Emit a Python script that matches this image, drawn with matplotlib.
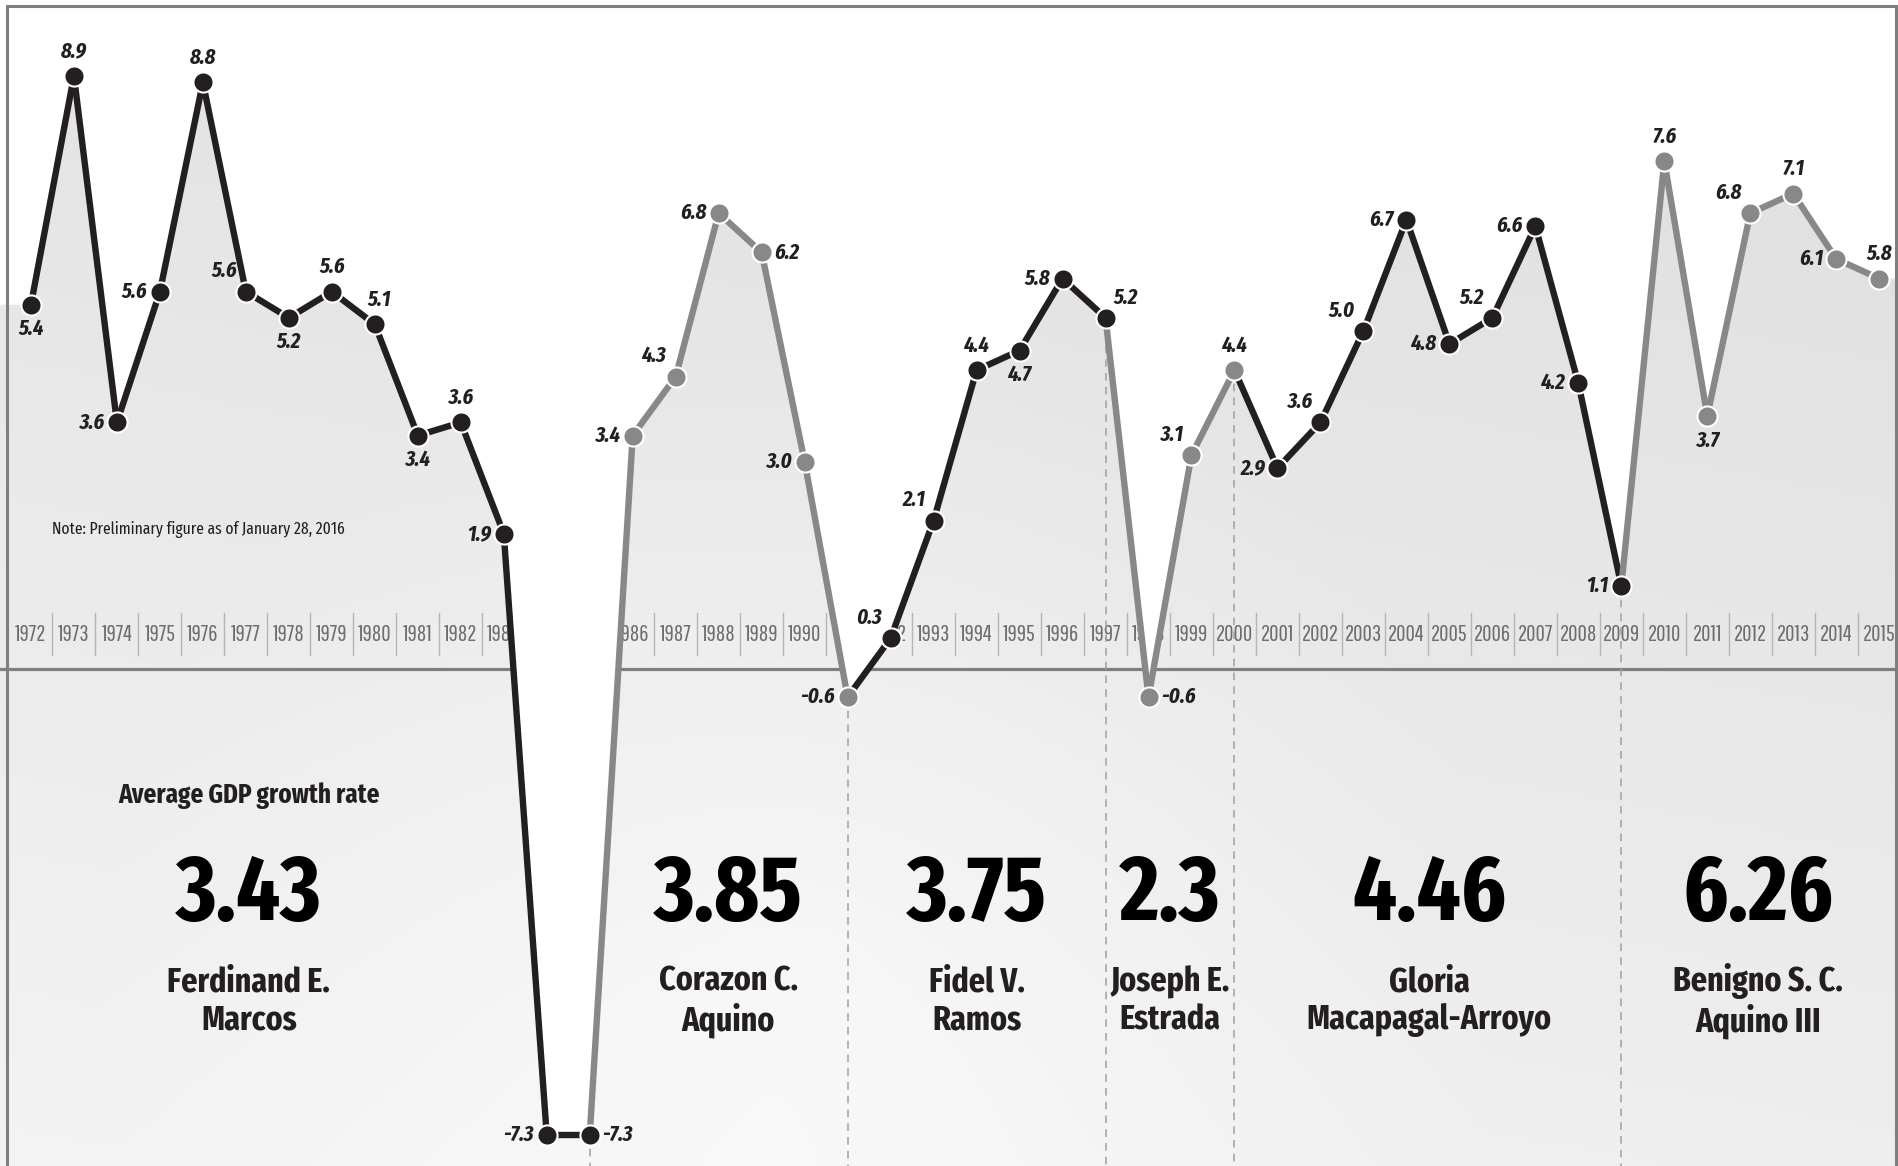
import numpy as np
import matplotlib.pyplot as plt
from matplotlib.patches import Rectangle

COND = ['Fira Sans Extra Condensed', 'DejaVu Sans']
THIN = ['Pathway Gothic One', 'DejaVu Sans']
plt.rcParams['font.family'] = COND

# data
years = list(range(1972, 2016))
growth = [5.4, 8.9, 3.6, 5.6, 8.8, 5.6, 5.2, 5.6, 5.1, 3.4, 3.6, 1.9, -7.3, -7.3,
          3.4, 4.3, 6.8, 6.2, 3.0, -0.6,
          0.3, 2.1, 4.4, 4.7, 5.8, 5.2,
          -0.6, 3.1, 4.4,
          2.9, 3.6, 5.0, 6.7, 4.8, 5.2, 6.6, 4.2, 1.1,
          7.6, 3.7, 6.8, 7.1, 6.1, 5.8]
presidents = ['Ferdinand E.\nMarcos', 'Corazon C.\nAquino', 'Fidel V.\nRamos',
              'Joseph E.\nEstrada', 'Gloria\nMacapagal-Arroyo', 'Benigno S. C.\nAquino III']
term_start = [1972, 1986, 1992, 1998, 2001, 2010]
term_end = [1985, 1991, 1997, 2000, 2009, 2015]
avg_growth = ['3.43', '3.85', '3.75', '2.3', '4.46', '6.26']

# where each value label sits relative to its dot
label_pos = ['b', 'a', 'l', 'l', 'a', 'ul', 'b', 'a', 'ar', 'b', 'a', 'l', 'l', 'r',
             'l', 'ul', 'l', 'r', 'l', 'l',
             'ul', 'ul', 'a', 'b', 'l', 'ur',
             'r', 'ul', 'a',
             'l', 'ul', 'ul', 'l', 'l', 'ul', 'l', 'l', 'l',
             'a', 'b', 'ul', 'a', 'l', 'a']
offs = {'a': (0, 10, 'center', 'bottom'), 'b': (0, -10, 'center', 'top'),
        'ar': (3, 10, 'center', 'bottom'),
        'l': (-9, 0, 'right', 'center'), 'r': (9, 0, 'left', 'center'),
        'ul': (-6, 7, 'right', 'bottom'), 'ur': (6, 7, 'left', 'bottom')}
# centre of each president's caption (in years)
caption_x = [1977.07, 1988.22, 1994.01, 1998.5, 2004.53, 2012.18]

BLACK = '#231f20'
GREY = '#87888a'

fig = plt.figure(figsize=(18.99, 11.66), dpi=100)
ax = fig.add_axes([0, 0, 1, 1])
x0, x1 = 1971.28, 2015.46
y0, y1 = -7.77, 10.06
ax.set_xlim(x0, x1)
ax.set_ylim(y0, y1)
ax.axis('off')

# soft grey background: lighter low and centre-left, darker up and to the right
gx, gy = np.meshgrid(np.linspace(0, 1, 400), np.linspace(0, 1, 250))
r = np.sqrt(((gx - 0.42) * 1.63) ** 2 + (gy - 0.15) ** 2)
g = 0.99 - 0.035 * np.clip(r / 0.6, 0, 1) - 0.065 * gy - 0.02 * gx
ax.imshow(np.dstack([g, g, g + 0.004]).clip(0, 1), extent=[x0, x1, y0, y1],
          origin='lower', aspect='auto', zorder=0)

# year boxes and axis line
for yr in years:
    ax.text(yr, 0.36, str(yr), ha='center', va='center', fontsize=16.5,
            family=THIN, color='#6d6e70', zorder=1)
for yr in years[:-1]:
    ax.plot([yr + 0.5, yr + 0.5], [0.05, 0.69], color='#b5b5b5', lw=1, zorder=1)
ax.axhline(-0.17, color='#7f7f7f', lw=2.3, zorder=1)

# white everything above the line
xe = [x0] + years + [x1]
ye = [growth[0]] + growth + [growth[-1]]
ax.fill_between(xe, ye, y1, color='white', lw=0, zorder=2)

# term boundaries
for yr in term_end[:-1]:
    v = growth[years.index(yr)]
    ax.plot([yr, yr], [v, y0], color='#a0a0a0', lw=1.1, ls=(0, (5, 4)), zorder=2.5)

# colour per point by term
colors = []
for yr in years:
    k = [j for j in range(len(term_start)) if term_start[j] <= yr <= term_end[j]][0]
    colors.append(BLACK if k % 2 == 0 else GREY)

for i in range(1, len(years)):
    ax.plot(years[i - 1:i + 1], growth[i - 1:i + 1], color=colors[i], lw=4.6,
            solid_capstyle='round', zorder=3)
for i, yr in enumerate(years):
    ax.plot(yr, growth[i], 'o', ms=14.5, mfc=colors[i], mec='white', mew=1.5, zorder=4)
    dx, dy, ha, va = offs[label_pos[i]]
    ax.annotate(f'{growth[i]:.1f}', (yr, growth[i]), xytext=(dx, dy),
                textcoords='offset points', ha=ha, va=va, fontsize=16,
                fontweight='bold', fontstyle='italic', color=BLACK, zorder=5)

ax.text(1971.28 + 52 / 42.98, 1.97, 'Note: Preliminary figure as of January 28, 2016',
        ha='left', va='center', fontsize=12.2, color=BLACK, zorder=5)
ax.text(caption_x[0], -2.11, 'Average GDP growth rate', ha='center', va='center',
        fontsize=19.5, fontweight='bold', color=BLACK, zorder=5)
for cx, avg, name in zip(caption_x, avg_growth, presidents):
    ax.text(cx, -3.63, avg, ha='center', va='center', fontsize=67,
            fontweight='bold', color='black', zorder=5)
    ax.text(cx, -5.25, name, ha='center', va='center', fontsize=25,
            fontweight='bold', color=BLACK, linespacing=1.15, zorder=5)

# outer frame
fig.patches.append(Rectangle((7 / 1899, -0.05), 1889 / 1899, 1.0 - 6 / 1166 + 0.05,
                             transform=fig.transFigure, fill=False,
                             ec='#7f7f7f', lw=2.2, zorder=10))

plt.savefig('out.png', dpi=100)
